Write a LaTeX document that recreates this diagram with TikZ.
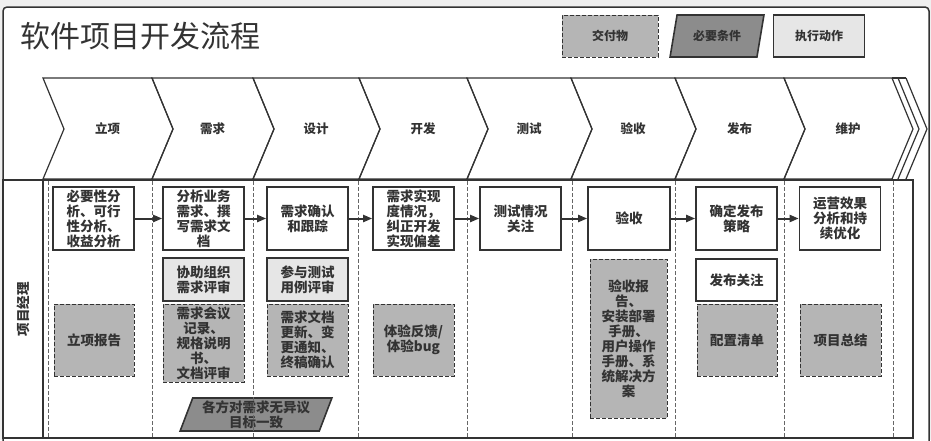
\documentclass[tikz,border=0pt]{standalone}
\usepackage{fontspec}
\setmainfont{Noto Sans CJK SC}
\usepackage{tikz}
\usetikzlibrary{arrows.meta,shapes.geometric}

\definecolor{ink}{HTML}{333333}
\definecolor{delivfill}{HTML}{B5B5B5}
\definecolor{condfill}{HTML}{8C8C8C}
\definecolor{helpfill}{HTML}{E6E6E6}
\definecolor{bgfill}{HTML}{EFEFEF}

\begin{document}
\begin{tikzpicture}[x=1pt, y=-1pt,
  font=\fontsize{13.5}{15}\selectfont\bfseries, text=ink,
  act/.style={draw=ink, line width=1.6pt, fill=white, align=center, inner sep=1pt, minimum width=81pt, minimum height=63pt},
  deliv/.style={draw=ink, dash pattern=on 4pt off 2pt, line width=0.8pt, fill=delivfill, align=center, inner sep=1pt, minimum width=80pt, minimum height=72pt},
  cond/.style={trapezium, trapezium stretches=true, trapezium left angle=70, trapezium right angle=110, draw=ink, line width=1.6pt, fill=condfill, align=center, inner sep=1pt},
  arr/.style={-{Triangle[length=9pt,width=7pt]}, line width=2pt, draw=ink},
  lane/.style={draw=ink, line width=1.5pt},
  sep/.style={draw=ink!75, dash pattern=on 4pt off 2pt, line width=0.7pt},
  phase/.style={draw=ink, line width=1.2pt, line join=miter}]
\useasboundingbox (0,0) rectangle (931,440);
\fill[bgfill] (0,0) rectangle (931,440);
\begin{scope}
\clip (0,0) rectangle (931,440);
\draw[ink, line width=1.5pt, fill=white, rounded corners=4pt] (3,7) rectangle (929,470);
\end{scope}

% title and legend
\node[anchor=west, font=\fontsize{30}{32}\selectfont] (title) at (17,36) {软件项目开发流程};
\node[deliv, font=\fontsize{12}{14}\selectfont\bfseries, minimum width=96pt, minimum height=42pt] (keydeliv) at (610,36) {交付物};
\node[cond, font=\fontsize{12}{14}\selectfont\bfseries, trapezium left angle=72, trapezium right angle=108, minimum width=94pt, minimum height=42pt] (keycond) at (717,36) {必要条件};
\node[act, fill=helpfill, font=\fontsize{12}{14}\selectfont\bfseries, minimum width=91pt, minimum height=42pt] (keyact) at (819,36) {执行动作};

% phases
\foreach \a/\b/\lbl [count=\i] in {43/152/立项, 152/253/需求, 253/359/设计, 359/467/开发, 467/571/测试, 571/675/验收, 675/784/发布, 784/892/维护}{
  \draw[phase] (\a,78) -- (\b,78) -- (\b+21,129) -- (\b,179) -- (\a,179) -- (\a+21,129) -- cycle;
  \node[font=\fontsize{12.5}{14}\selectfont\bfseries] (ph\i) at ({(\a+\b)/2+10},129) {\lbl};
}
\draw[phase] (892,78) -- (906,78);
\draw[phase] (898,78) -- (919,129) -- (898,179);
\draw[phase] (906,78) -- (927,129) -- (906,179);

% swimlane
\draw[lane] (3,180) rectangle (43,438);
\draw[lane] (43,180) rectangle (913,438);
\node[rotate=90] (role) at (23,309) {项目经理};

% actions
\node[act] (a1) at (93.5,218.5) {必要性分\\析、可行\\性分析、\\收益分析};
\node[act] (a2) at (203.5,218.5) {分析业务\\需求、撰\\写需求文\\档};
\node[act] (a3) at (307.5,218.5) {需求确认\\和跟踪};
\node[act] (a4) at (413.5,218.5) {需求实现\\度情况，\\纠正开发\\实现偏差};
\node[act] (a5) at (520.5,218.5) {测试情况\\关注};
\node[act, minimum width=82pt] (a6) at (629,218.5) {验收};
\node[act] (a7) at (736.5,218.5) {确定发布\\策略};
\node[act] (a8) at (840,218.5) {运营效果\\分析和持\\续优化};

\node[act, fill=helpfill, minimum height=43pt] (h2) at (203.5,279.5) {协助组织\\需求评审};
\node[act, fill=helpfill, minimum height=43pt] (h3) at (307.5,279.5) {参与测试\\用例评审};
\node[act, minimum height=42pt] (h7) at (736.5,280) {发布关注};

% deliverables
\node[deliv] (d1) at (94,340) {立项报告};
\node[deliv, minimum width=81pt, minimum height=78pt] (d2) at (203.5,343) {需求会议\\记录、\\规格说明\\书、\\文档评审};
\node[deliv, minimum width=81pt] (d3) at (307.5,340) {需求文档\\更新、变\\更通知、\\终稿确认};
\node[deliv, minimum width=81pt] (d4) at (413.5,340) {体验反馈/\\体验bug};
\node[deliv, minimum width=77pt, minimum height=159pt] (d6) at (628.5,338.5) {验收报\\告、\\安装部署\\手册、\\用户操作\\手册、系\\统解决方\\案};
\node[deliv] (d7) at (737,340) {配置清单};
\node[deliv, minimum width=81pt] (d8) at (840.5,340) {项目总结};

% conditions
\node[cond, minimum width=152pt, minimum height=33pt] (c2) at (256,414.5) {各方对需求无异议\\目标一致};

\foreach \x in {48,152,253,358,467,572,675,784,893}
  \draw[sep] (\x,181) -- (\x,437);

\foreach \i [evaluate=\i as \j using int(\i+1)] in {1,...,7}
  \draw[arr] (a\i) -- (a\j);
\end{tikzpicture}
\end{document}
